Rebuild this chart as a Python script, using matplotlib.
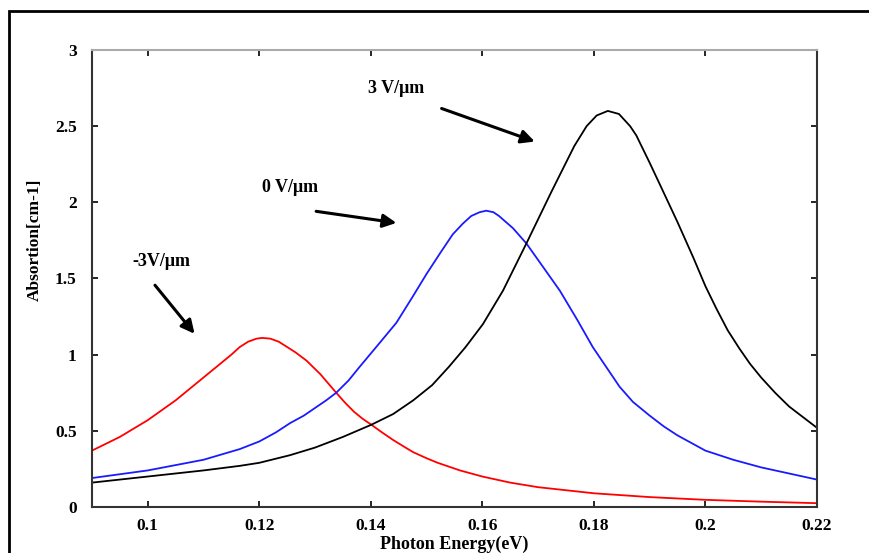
import matplotlib
matplotlib.use("Agg")
import matplotlib.pyplot as plt
from matplotlib.patches import Rectangle

# -3 V/um curve (red)
red_x = [0.090, 0.095, 0.100, 0.105, 0.110, 0.113, 0.115, 0.1165, 0.118, 0.1195,
         0.1205, 0.122, 0.1235, 0.125, 0.1265, 0.1285, 0.131, 0.1338, 0.1355, 0.137,
         0.1385, 0.1401, 0.142, 0.144, 0.146, 0.1476, 0.150, 0.152, 0.154, 0.156,
         0.158, 0.160, 0.165, 0.170, 0.175, 0.180, 0.190, 0.200, 0.210, 0.220]
red_y = [0.37, 0.46, 0.57, 0.70, 0.85, 0.94, 1.00, 1.05, 1.085, 1.105,
         1.11, 1.105, 1.085, 1.05, 1.015, 0.96, 0.87, 0.75, 0.68, 0.625,
         0.58, 0.54, 0.49, 0.44, 0.395, 0.36, 0.32, 0.29, 0.265, 0.24,
         0.22, 0.20, 0.16, 0.13, 0.11, 0.09, 0.065, 0.047, 0.035, 0.025]

# 0 V/um curve (blue)
blue_x = [0.090, 0.100, 0.110, 0.1165, 0.120, 0.123, 0.1255, 0.128, 0.130, 0.132,
          0.1338, 0.136, 0.138, 0.1412, 0.1446, 0.1475, 0.150, 0.1525, 0.1547, 0.1565,
          0.158, 0.1595, 0.1607, 0.162, 0.163, 0.1655, 0.1679, 0.171, 0.1739, 0.177,
          0.1798, 0.1822, 0.1846, 0.187, 0.190, 0.1925, 0.195, 0.1975, 0.200, 0.205,
          0.210, 0.215, 0.220]
blue_y = [0.19, 0.24, 0.31, 0.38, 0.43, 0.49, 0.55, 0.60, 0.65, 0.70,
          0.75, 0.83, 0.92, 1.06, 1.21, 1.38, 1.53, 1.67, 1.79, 1.86,
          1.91, 1.935, 1.945, 1.935, 1.91, 1.83, 1.73, 1.57, 1.42, 1.23,
          1.05, 0.92, 0.79, 0.69, 0.60, 0.53, 0.47, 0.42, 0.37, 0.31,
          0.26, 0.22, 0.18]

# 3 V/um curve (black)
black_x = [0.090, 0.100, 0.110, 0.1165, 0.120, 0.1255, 0.130, 0.135, 0.1401, 0.144,
           0.1476, 0.151, 0.154, 0.157, 0.1601, 0.1637, 0.1679, 0.1724, 0.1739, 0.1765,
           0.1787, 0.1805, 0.1825, 0.1845, 0.1865, 0.1876, 0.190, 0.1918, 0.195, 0.1978,
           0.200, 0.202, 0.204, 0.2061, 0.208, 0.210, 0.2125, 0.215, 0.2175, 0.220]
black_y = [0.16, 0.20, 0.24, 0.27, 0.29, 0.34, 0.39, 0.46, 0.54, 0.61,
           0.70, 0.80, 0.92, 1.05, 1.20, 1.42, 1.73, 2.07, 2.18, 2.37,
           2.50, 2.57, 2.60, 2.58, 2.50, 2.44, 2.26, 2.12, 1.87, 1.64,
           1.45, 1.30, 1.16, 1.04, 0.94, 0.85, 0.75, 0.66, 0.59, 0.52]

x_ticks = [0.1, 0.12, 0.14, 0.16, 0.18, 0.2, 0.22]
x_tick_labels = ["0.1", "0.12", "0.14", "0.16", "0.18", "0.2", "0.22"]
y_ticks = [0, 0.5, 1, 1.5, 2, 2.5, 3]
y_tick_labels = ["0", "0.5", "1", "1.5", "2", "2.5", "3"]

plt.rcParams['font.family'] = ['Liberation Serif', 'DejaVu Serif']
plt.rcParams['font.weight'] = 'bold'

fig = plt.figure(figsize=(8.7, 5.53), dpi=100)
ax = fig.add_axes([0.1057, 0.0832, 0.8333, 0.8264])

ax.plot(red_x, red_y, color='red', lw=1.3)
ax.plot(blue_x, blue_y, color='#1a1aff', lw=1.3)
ax.plot(black_x, black_y, color='black', lw=1.3)

ax.set_xlim(0.09, 0.22)
ax.set_ylim(0, 3)
ax.set_xticks(x_ticks)
ax.set_xticklabels(x_tick_labels)
ax.set_yticks(y_ticks)
ax.set_yticklabels(y_tick_labels)
ax.tick_params(direction='in', length=4, width=1.2, top=True, right=True,
               labelsize=12.5, colors='black')
ax.tick_params(axis='x', pad=8)
ax.tick_params(axis='y', pad=11)
for side in ['left', 'bottom', 'right']:
    ax.spines[side].set_color('#333333')
    ax.spines[side].set_linewidth(1.5)
ax.spines['top'].set_color('#aaaaaa')
ax.spines['top'].set_linewidth(1.5)

ax.set_xlabel('Photon Energy(eV)', fontsize=13, fontweight='bold', labelpad=1)
ax.set_ylabel('Absortion[cm-1]', fontsize=12.5, fontweight='bold')
ax.yaxis.set_label_coords(-0.068, 0.584)

arrow = dict(arrowstyle='-|>', lw=2.2, color='black', mutation_scale=20, shrinkA=0, shrinkB=0)
ax.annotate('', xy=(0.1694, 2.399), xytext=(0.1527, 2.616), arrowprops=arrow)
ax.annotate('', xy=(0.1446, 1.865), xytext=(0.1302, 1.941), arrowprops=arrow)
ax.annotate('', xy=(0.1084, 1.137), xytext=(0.1013, 1.456), arrowprops=arrow)
ax.text(0.1446, 2.747, '3 V/\u03bcm', fontsize=13, fontweight='bold', ha='center', va='center')
ax.text(0.1255, 2.098, '0 V/\u03bcm', fontsize=13, fontweight='bold', ha='center', va='center')
ax.text(0.1025, 1.614, '-3V/\u03bcm', fontsize=13, fontweight='bold', ha='center', va='center')

# outer frame around the figure
fig.patches.append(Rectangle((0.0103, -0.05), 1.1, 0.05 + 0.980, transform=fig.transFigure,
                             fill=False, edgecolor='black', lw=2))

fig.savefig("out.png", dpi=100)
